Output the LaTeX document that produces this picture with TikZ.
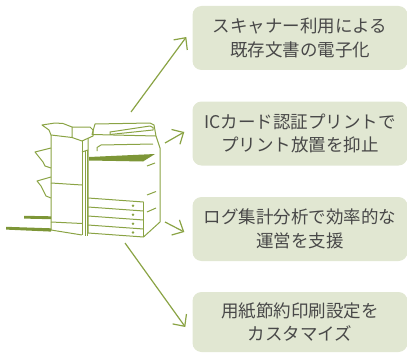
\documentclass[tikz,border=0pt]{standalone}
\usepackage{fontspec}
\setmainfont{Noto Sans CJK JP}
\usetikzlibrary{arrows.meta}
\definecolor{leaf}{RGB}{138,163,68}
\definecolor{leafdark}{RGB}{125,150,55}
\definecolor{panel}{RGB}{225,231,210}
\definecolor{ink}{RGB}{72,72,72}
\begin{document}
\begin{tikzpicture}[x=1pt,y=-1pt,
  benefit/.style={fill=panel, rounded corners=9pt, minimum width=215pt,
    minimum height=64pt, align=center, text=ink, inner sep=0pt,
    font=\fontsize{17.5}{23.5}\selectfont},
  pointer/.style={draw=leaf, line width=1.2pt,
    -{Straight Barb[length=9pt,width=17pt,line width=1.2pt]}},
  outline/.style={draw=leaf, line width=1pt, line join=round},
  tray/.style={fill=leafdark},
  knob/.style={fill=leaf},
  ]
\useasboundingbox (0,0) rectangle (407,353);

% --- benefit panels ---
\node[benefit] (b1) at (300,38) {スキャナー利用による\\既存文書の電子化};
\node[benefit] (b2) at (300,133.5) {ICカード認証プリントで\\プリント放置を抑止};
\node[benefit] (b3) at (300,229) {ログ集計分析で効率的な\\運営を支援};
\node[benefit, minimum height=60pt] (b4) at (300,322) {用紙節約印刷設定を\\カスタマイズ};

% --- arrows radiating from the machine ---
\coordinate (s1) at (131,112);
\coordinate (s2) at (165,143);
\coordinate (s3) at (165,222);
\coordinate (s4) at (125,243);
\coordinate (t1) at ([xshift=-6pt,yshift=1pt]b1.west);
\coordinate (t2) at ([xshift=-8pt,yshift=1.5pt]b2.west);
\coordinate (t3) at ([xshift=-8pt,yshift=-3pt]b3.west);
\coordinate (t4) at ([xshift=-7pt,yshift=-5pt]b4.west);
\draw[pointer] (s1) -- (t1);
\draw[pointer] (s2) -- (t2);
\draw[pointer] (s3) -- (t3);
\draw[pointer] (s4) -- (t4);

% --- finisher unit ---
\draw[outline] (51,135) -- (51,230) -- (82,235);
\draw[outline] (82,141) -- (82,235);
\draw[outline] (51,183) -- (82,185);
\draw[outline] (51,222) -- (82,223.5);
% finisher lids
\draw[outline] (42,125) -- (55,123) -- (63,123.5) -- (72,127) -- (72,137.5) -- (51,135) -- (49,130) -- cycle;
\draw[outline] (72,127) -- (90,127) -- (93,130) -- (93,136) -- (82,141) -- (72,137.5);
\draw[outline] (82,141) -- (82,152);
% side bins
\draw[outline] (51,148) -- (35,152) -- (39,157) -- (43,162) -- (45,166) -- (51,168);
\draw[outline] (51,177) -- (37,181) -- (41,186) -- (44,192) -- (46,196) -- (51,198);
% output trays
\fill[tray] (24,215.8) -- (51,216.3) -- (51,219.2) -- (24,218.6) -- cycle;
\fill[tray] (6,226.8) -- (51,228.3) -- (51,231.6) -- (6,229.6) -- cycle;

% --- connecting column ---
\draw[outline] (85,151) -- (85,236);
\draw[outline] (87,150) -- (87,236);
\draw[outline] (82,152) -- (88,150);

% --- main body ---
\draw[outline] (88,138) -- (88,233) -- (143.5,237) -- (160,222) -- (160,148) -- (156,136);
% scanner
\draw[outline] (92,134.5) -- (95,124) -- (150,123) -- (154,125) -- (156,136) -- cycle;
% document feeder
\draw[outline] (110,132) -- (150,126) -- (153,127.5) -- (153,130) -- (110,134.5) -- cycle;
% inner shelf
\draw[outline] (97,151) -- (97,147.5) -- (101,145) -- (153,144);
% output tray
\fill[tray] (89,157) -- (155,154) -- (143,161.5) -- (89,160.5) -- cycle;
% side panel marks
\draw[outline] (147,166) -- (155,163);
\draw[outline] (147,195) -- (156,191.5);
\draw[outline] (147,212) -- (156,208);
% paper drawers
\draw[outline] (88,198) -- (143.5,202);
\draw[outline] (88,207) -- (143.5,211);
\draw[outline] (88,216) -- (143.5,220);
\draw[outline] (88,225) -- (143.5,229);
\draw[outline] (143.5,202) -- (143.5,237);
\fill[knob] (133,205.8) circle (1.4);
\fill[knob] (133,214.8) circle (1.4);
\fill[knob] (133,223.8) circle (1.4);
\fill[knob] (133,232.5) circle (1.4);
\end{tikzpicture}
\end{document}
